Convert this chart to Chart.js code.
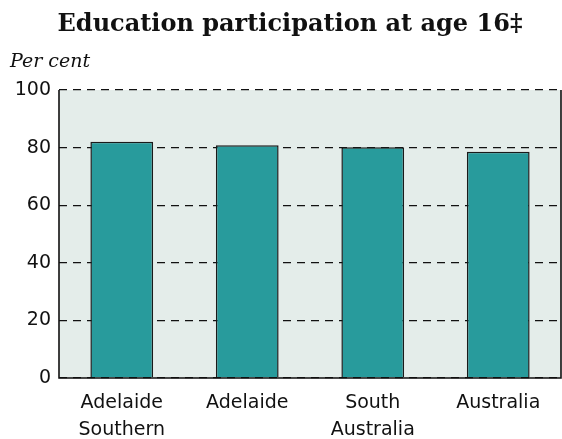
<!DOCTYPE html>
<html>
<head>
<meta charset="utf-8">
<script src="https://cdn.jsdelivr.net/npm/chart.js@4.4.0/dist/chart.umd.min.js"></script>
<style>
  html, body { margin: 0; padding: 0; background: #fff; }
  #wrap { width: 562px; height: 439px; }
</style>
</head>
<body>
<div id="wrap"><canvas id="chart"></canvas></div>
<script>
// Chart data
const categories = [["Adelaide", "Southern"], "Adelaide", ["South", "Australia"], "Australia"];
const participation = [82.0, 80.8, 80.1, 78.6];
const yTicks = [0, 20, 40, 60, 80, 100];

const chartTitle = "Education participation at age 16\u2021";
const unitLabel = "Per cent";

// Background, frame and titles
const framePlugin = {
    id: "frame",
    beforeDraw(chart) {
        const { ctx, chartArea: a } = chart;
        ctx.save();
        ctx.fillStyle = "#e4edea";
        ctx.fillRect(a.left, a.top, a.right - a.left, a.bottom - a.top);
        ctx.restore();
    },
    afterDraw(chart) {
        const { ctx, chartArea: a } = chart;
        ctx.save();
        ctx.strokeStyle = "#111";
        ctx.lineWidth = 1.6;
        ctx.beginPath();
        ctx.moveTo(a.left, a.top);
        ctx.lineTo(a.left, a.bottom);
        ctx.lineTo(a.right, a.bottom);
        ctx.lineTo(a.right, a.top);
        ctx.stroke();

        // title, sized to the reference width
        let size = 24;
        ctx.font = "bold " + size + "px 'DejaVu Serif'";
        size = size * 465 / ctx.measureText(chartTitle).width;
        ctx.font = "bold " + size + "px 'DejaVu Serif'";
        ctx.fillStyle = "#111";
        ctx.textAlign = "center";
        ctx.textBaseline = "alphabetic";
        ctx.fillText(chartTitle, 290, 31);

        ctx.font = "italic 19px 'DejaVu Serif'";
        ctx.textAlign = "left";
        ctx.fillText(unitLabel, 10, 67);
        ctx.restore();
    }
};

new Chart(document.getElementById("chart"), {
    type: "bar",
    data: {
        labels: categories,
        datasets: [{
            data: participation,
            backgroundColor: "#289b9c",
            borderColor: "#1a1a1a",
            borderWidth: 1.5,
            barPercentage: 0.5,
            categoryPercentage: 1.0
        }]
    },
    options: {
        responsive: true,
        maintainAspectRatio: false,
        animation: false,
        layout: { padding: { top: 90, right: 1, left: 0, bottom: 0 } },
        plugins: {
            legend: { display: false },
            tooltip: { enabled: false },
            title: { display: false }
        },
        scales: {
            x: {
                grid: { display: false, drawTicks: false },
                border: { display: false },
                afterFit(scale) { scale.height = 61; },
                ticks: {
                    color: "#111",
                    padding: 12,
                    font: { family: "'DejaVu Sans'", size: 19, lineHeight: 1.42 },
                    maxRotation: 0,
                    autoSkip: false
                }
            },
            y: {
                min: 0,
                max: 100,
                afterFit(scale) { scale.width = 59; },
                afterBuildTicks(scale) { scale.ticks = yTicks.map(v => ({ value: v })); },
                grid: {
                    color: "#111",
                    lineWidth: 1.3,
                    drawTicks: false
                },
                border: { display: false, dash: [8, 6] },
                ticks: {
                    color: "#111",
                    padding: 8,
                    font: { family: "'DejaVu Sans'", size: 19 }
                }
            }
        }
    },
    plugins: [framePlugin]
});
</script>
</body>
</html>
